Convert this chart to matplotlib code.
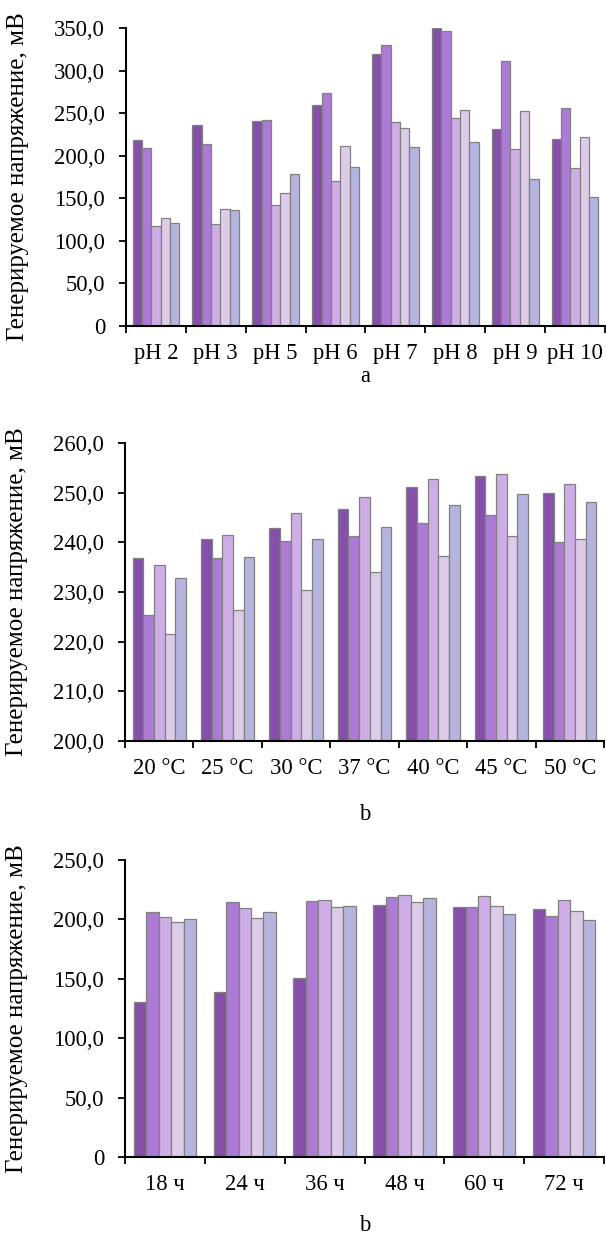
import numpy as np
import matplotlib
matplotlib.use("Agg")
import matplotlib.pyplot as plt
from matplotlib.ticker import FuncFormatter, MultipleLocator

plt.rcParams['font.family'] = ['Liberation Serif', 'DejaVu Serif']

# panel a: pH
ph_labels = ["pH 2", "pH 3", "pH 5", "pH 6", "pH 7", "pH 8", "pH 9", "pH 10"]
ph_s1 = [218, 236, 241, 260, 320, 350, 231, 220]
ph_s2 = [209, 214, 242, 274, 330, 347, 311, 256]
ph_s3 = [117, 120, 142, 170, 240, 244, 208, 186]
ph_s4 = [127, 137, 156, 212, 233, 254, 253, 222]
ph_s5 = [121, 136, 178, 187, 210, 216, 173, 152]

# panel b: temperature
t_labels = ["20 °C", "25 °C", "30 °C", "37 °C", "40 °C", "45 °C", "50 °C"]
t_s1 = [236.8, 240.6, 242.9, 246.8, 251.2, 253.3, 250.0]
t_s2 = [225.3, 236.8, 240.3, 241.2, 243.8, 245.5, 240.1]
t_s3 = [235.4, 241.5, 245.9, 249.2, 252.8, 253.8, 251.7]
t_s4 = [221.5, 226.4, 230.5, 234.0, 237.3, 241.2, 240.6]
t_s5 = [232.9, 237.1, 240.6, 243.1, 247.5, 249.8, 248.1]

# panel c: time
h_labels = ["18 ч", "24 ч", "36 ч", "48 ч", "60 ч", "72 ч"]
h_s1 = [130.8, 139.2, 150.7, 211.8, 210.2, 208.5]
h_s2 = [206.0, 214.4, 215.2, 218.9, 210.2, 203.1]
h_s3 = [201.7, 209.6, 216.1, 220.3, 219.4, 216.6]
h_s4 = [198.1, 201.5, 210.2, 214.4, 211.0, 207.3]
h_s5 = [200.1, 206.2, 211.0, 218.3, 204.3, 199.2]

colors = ["#8650AA", "#AD7BD6", "#CFAEE8", "#DDCCE9", "#B5B4DE"]
ylabel = "Генерируемое напряжение, мВ"


def fmt(v, pos):
    if v == 0:
        return "0"
    return ("%.1f" % v).replace(".", ",")


def draw(ax, labels, series, ymin, ymax, step, letter, letter_y):
    n = len(labels)
    x = np.arange(n)
    w = 0.78 / 5
    for i, s in enumerate(series):
        ax.bar(x - 0.39 + w * (i + 0.5), np.array(s) - ymin, width=w, bottom=ymin,
               color=colors[i], edgecolor="#808080", linewidth=0.9)
    ax.set_xlim(-0.5, n - 0.5)
    ax.set_ylim(ymin, ymax)
    ax.yaxis.set_major_locator(MultipleLocator(step))
    ax.yaxis.set_major_formatter(FuncFormatter(fmt))
    ax.set_xticks(x)
    ax.set_xticklabels(labels)
    ax.set_xticks(np.arange(n + 1) - 0.5, minor=True)
    ax.tick_params(axis="x", which="major", length=0, labelsize=16.3, pad=12)
    ax.tick_params(axis="x", which="minor", length=5, width=1.3, direction="out")
    ax.tick_params(axis="y", length=5, width=1.3, labelsize=16.3, pad=10)
    for sp in ["top", "right"]:
        ax.spines[sp].set_visible(False)
    for sp in ["left", "bottom"]:
        ax.spines[sp].set_linewidth(1.5)
    ax.set_ylabel(ylabel, fontsize=18)
    ax.yaxis.set_label_coords(-0.203, 0.5)
    ax.text(0.5, letter_y, letter, transform=ax.transAxes, ha="center", va="center",
            fontsize=16.3)


fig = plt.figure(figsize=(6.06, 12.41), dpi=100)
ax1 = fig.add_axes([0.2079, 0.7373, 0.7904, 0.2401])
ax2 = fig.add_axes([0.2063, 0.4029, 0.7904, 0.2401])
ax3 = fig.add_axes([0.2063, 0.0677, 0.7904, 0.2393])

draw(ax1, ph_labels, [ph_s1, ph_s2, ph_s3, ph_s4, ph_s5], 0, 350, 50, "a", -0.168)
draw(ax2, t_labels, [t_s1, t_s2, t_s3, t_s4, t_s5], 200, 260, 10, "b", -0.248)
draw(ax3, h_labels, [h_s1, h_s2, h_s3, h_s4, h_s5], 0, 250, 50, "b", -0.232)

fig.savefig("out.png", dpi=100)
